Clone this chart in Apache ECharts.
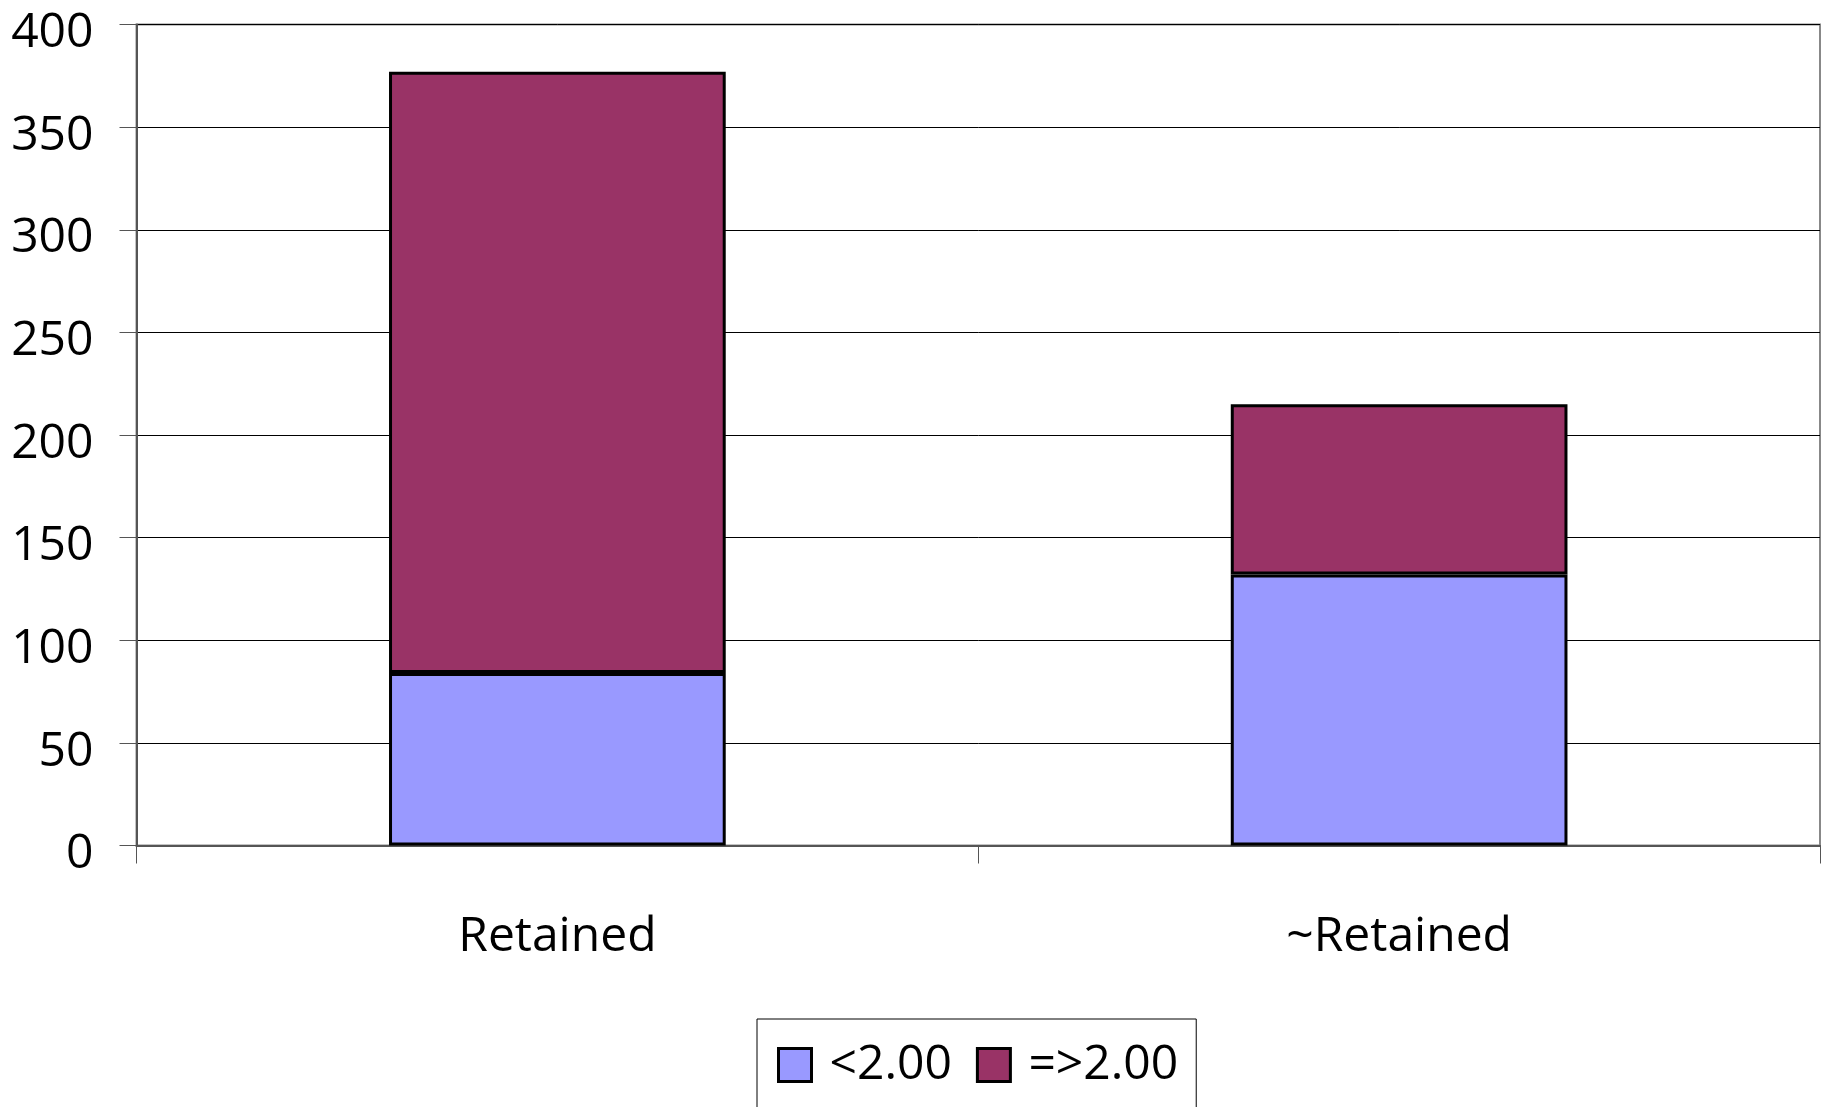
<!DOCTYPE html>
<html>
<head>
<meta charset="utf-8">
<script src="https://cdn.jsdelivr.net/npm/echarts@6/dist/echarts.min.js"></script>
<style>
html,body{margin:0;padding:0;background:#fff;}
#chart{width:1831px;height:1107px;}
</style>
</head>
<body>
<div id="chart"></div>
<script>
const categories = ['Retained', '~Retained'];
const seriesNames = ['<2.00', '=>2.00'];
const below2 = [84, 132];
const atLeast2 = [293, 83];
const yTicks = [0, 50, 100, 150, 200, 250, 300, 350, 400];

const FONT = '"Open Sans", "Noto Sans", sans-serif';
const chart = echarts.init(document.getElementById('chart'), null, {renderer: 'canvas'});
chart.setOption({
  animation: false,
  backgroundColor: '#fff',
  grid: {
    left: 136.5, top: 24.5, right: 11, bottom: 261.5,
    show: true, borderColor: '#888', borderWidth: 2, backgroundColor: 'transparent'
  },
  xAxis: {
    type: 'category',
    data: categories,
    boundaryGap: true,
    axisLine: {lineStyle: {color: '#555', width: 2}},
    axisTick: {show: true, length: 18, lineStyle: {color: '#555', width: 1}},
    axisLabel: {color: '#000', fontFamily: FONT, fontSize: 48, margin: 68}
  },
  yAxis: {
    type: 'value',
    min: yTicks[0], max: yTicks[yTicks.length - 1], interval: 50,
    axisLine: {show: true, lineStyle: {color: '#555', width: 2}},
    axisTick: {show: true, length: 17, lineStyle: {color: '#555', width: 1}},
    splitLine: {show: true, lineStyle: {color: '#000', width: 1}},
    axisLabel: {color: '#000', fontFamily: FONT, fontSize: 48, margin: 43, verticalAlign: 'top', lineHeight: 18}
  },
  legend: {
    data: seriesNames,
    left: 757, top: 1019,
    orient: 'horizontal',
    borderColor: '#000', borderWidth: 1,
    padding: [22, 18, 60, 20],
    itemWidth: 33, itemHeight: 33, itemGap: 24,
    icon: 'rect',
    itemStyle: {borderColor: '#000', borderWidth: 3},
    textStyle: {color: '#000', fontFamily: FONT, fontSize: 48, lineHeight: 48, padding: [0, 0, 0, 13]}
  },
  series: [
    {
      name: seriesNames[0], type: 'bar', stack: 'total', data: below2, barWidth: '40%',
      itemStyle: {color: '#9999FF', borderColor: '#000', borderWidth: 3}
    },
    {
      name: seriesNames[1], type: 'bar', stack: 'total', data: atLeast2, barWidth: '40%',
      itemStyle: {color: '#993366', borderColor: '#000', borderWidth: 3}
    }
  ]
});
</script>
</body>
</html>
